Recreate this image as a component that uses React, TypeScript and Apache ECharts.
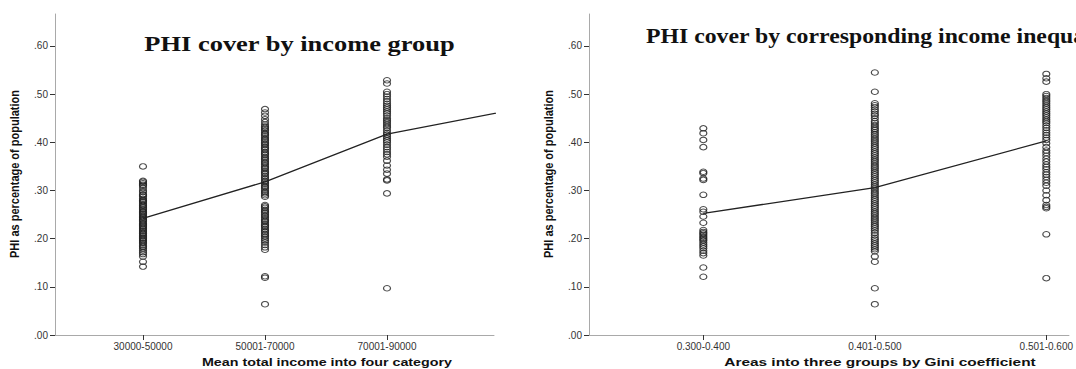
import React, { useEffect, useRef } from "react";
import * as echarts from "echarts";

// ---------- data ----------
const incomeCats = ["30000-50000", "50001-70000", "70001-90000", "90001-110000"];
const giniCats = ["0.300-0.400", "0.401-0.500", "0.501-0.600"];

const incomeMeans = [0.242, 0.318, 0.417, 0.466];
const giniMeans = [0.2525, 0.306, 0.403];

const inc1 = [0.350, 0.320, 0.318, 0.315, 0.312, 0.310, 0.305, 0.300, 0.297, 0.292, 0.290, 0.287, 0.283, 0.280, 0.278, 0.276, 0.273, 0.270, 0.268, 0.265, 0.262, 0.260, 0.257, 0.255, 0.252, 0.250, 0.247, 0.245, 0.243, 0.240, 0.238, 0.235, 0.232, 0.230, 0.227, 0.225, 0.222, 0.220, 0.217, 0.215, 0.212, 0.210, 0.207, 0.205, 0.202, 0.200, 0.197, 0.195, 0.192, 0.190, 0.186, 0.183, 0.180, 0.176, 0.172, 0.168, 0.163, 0.152, 0.142];
const inc2 = [0.469, 0.462, 0.455, 0.448, 0.442, 0.437, 0.433, 0.430, 0.427, 0.424, 0.420, 0.417, 0.414, 0.410, 0.407, 0.404, 0.400, 0.397, 0.394, 0.390, 0.387, 0.384, 0.380, 0.377, 0.374, 0.370, 0.367, 0.364, 0.360, 0.357, 0.354, 0.350, 0.347, 0.344, 0.340, 0.337, 0.334, 0.330, 0.327, 0.324, 0.320, 0.317, 0.314, 0.310, 0.307, 0.304, 0.300, 0.297, 0.294, 0.290, 0.287, 0.270, 0.267, 0.264, 0.260, 0.257, 0.254, 0.250, 0.247, 0.244, 0.240, 0.237, 0.234, 0.230, 0.227, 0.224, 0.220, 0.217, 0.214, 0.210, 0.207, 0.204, 0.200, 0.196, 0.192, 0.187, 0.182, 0.177, 0.122, 0.119, 0.064];
const inc3 = [0.529, 0.522, 0.505, 0.500, 0.495, 0.490, 0.485, 0.480, 0.476, 0.472, 0.468, 0.464, 0.460, 0.455, 0.450, 0.446, 0.442, 0.438, 0.434, 0.430, 0.425, 0.420, 0.416, 0.412, 0.408, 0.404, 0.400, 0.395, 0.390, 0.385, 0.380, 0.375, 0.370, 0.362, 0.352, 0.343, 0.335, 0.323, 0.321, 0.294, 0.097];

const gini1 = [0.429, 0.419, 0.405, 0.390, 0.339, 0.336, 0.325, 0.322, 0.291, 0.261, 0.256, 0.246, 0.233, 0.218, 0.214, 0.211, 0.208, 0.205, 0.202, 0.199, 0.196, 0.192, 0.188, 0.184, 0.180, 0.175, 0.170, 0.165, 0.140, 0.121];
const gini2 = [0.545, 0.505, 0.481, 0.477, 0.473, 0.468, 0.464, 0.459, 0.455, 0.450, 0.444, 0.440, 0.436, 0.432, 0.428, 0.425, 0.421, 0.417, 0.413, 0.409, 0.405, 0.401, 0.397, 0.393, 0.389, 0.385, 0.381, 0.377, 0.373, 0.369, 0.365, 0.361, 0.357, 0.353, 0.349, 0.345, 0.341, 0.337, 0.333, 0.329, 0.325, 0.321, 0.317, 0.313, 0.309, 0.305, 0.301, 0.297, 0.293, 0.289, 0.285, 0.281, 0.277, 0.273, 0.269, 0.265, 0.261, 0.257, 0.253, 0.249, 0.245, 0.241, 0.237, 0.233, 0.229, 0.225, 0.221, 0.217, 0.212, 0.207, 0.202, 0.198, 0.194, 0.190, 0.186, 0.182, 0.178, 0.174, 0.163, 0.152, 0.097, 0.064];
const gini3 = [0.542, 0.533, 0.526, 0.500, 0.496, 0.492, 0.488, 0.484, 0.480, 0.476, 0.472, 0.468, 0.464, 0.460, 0.456, 0.452, 0.448, 0.444, 0.440, 0.435, 0.430, 0.425, 0.420, 0.415, 0.410, 0.405, 0.398, 0.390, 0.383, 0.378, 0.372, 0.366, 0.360, 0.354, 0.349, 0.344, 0.338, 0.333, 0.328, 0.322, 0.316, 0.310, 0.300, 0.290, 0.280, 0.270, 0.266, 0.263, 0.209, 0.118];

const yTicks = [0, 0.1, 0.2, 0.3, 0.4, 0.5, 0.6];
const leftTitle = "PHI cover by income group";
const rightTitle = "PHI cover by corresponding income inequality";
const rightTitleVisible = "PHI cover by corresponding income inequ";
const leftXName = "Mean total income into four category";
const rightXName = "Areas into three groups by Gini coefficient";
const yName = "PHI as percentage of population";

// ---------- helpers ----------
function measure(text: string, font: string): number {
  const ctx = document.createElement("canvas").getContext("2d");
  if (!ctx) return text.length * 6;
  ctx.font = font;
  return ctx.measureText(text).width;
}

const toPoints = (groups: number[][]) => {
  const out: number[][] = [];
  groups.forEach((g, i) => g.forEach((v) => out.push([i + 1, v])));
  return out;
};

export default function App() {
  const ref = useRef<HTMLDivElement>(null);
  useEffect(() => {
    if (!ref.current) return;
    const chart = echarts.init(ref.current, undefined, { renderer: "svg" });

    const titleFont = 'bold 20px "Liberation Serif"';
    const nameFont = 'bold 11px "Liberation Sans"';
    const yFont = 'bold 13px "Liberation Sans"';
    const titleScale = 311 / measure(leftTitle, titleFont);
    const rTitleScale = 428 / measure(rightTitleVisible, titleFont);
    const lxScale = 250 / measure(leftXName, nameFont);
    const rxScale = 312 / measure(rightXName, nameFont);
    const yScale = 168 / measure(yName, yFont);

    const yMax = 0.6664;
    const axisGrey = "#a9a9a9";
    const tickCol = "#333";

    const yAxisCommon = (gi: number) => ({
      type: "value",
      gridIndex: gi,
      min: 0,
      max: yMax,
      splitLine: { show: false },
      axisLine: { show: true, lineStyle: { color: axisGrey, width: 1 } },
      axisTick: { show: true, length: 5, customValues: yTicks, lineStyle: { color: tickCol } },
      axisLabel: {
        customValues: yTicks,
        fontSize: 10,
        fontFamily: "Liberation Sans",
        color: "#333",
        margin: 7,
        formatter: (v: number) => v.toFixed(2).replace(/^0/, ""),
      },
    });

    const xAxisCommon = (gi: number, min: number, max: number, cats: string[], ticks: number[]) => ({
      type: "value",
      gridIndex: gi,
      min,
      max,
      splitLine: { show: false },
      axisLine: { show: true, onZero: false, lineStyle: { color: axisGrey, width: 1 } },
      axisTick: { show: true, length: 5, customValues: ticks, lineStyle: { color: tickCol } },
      axisLabel: {
        customValues: ticks,
        fontSize: 10,
        fontFamily: "Liberation Sans",
        color: "#333",
        margin: 6,
        formatter: (v: number) => cats[Math.round(v) - 1] ?? "",
      },
    });

    const scatterStyle = {
      type: "scatter",
      symbol: "circle",
      symbolSize: [7, 5.5],
      itemStyle: { color: "rgba(255,255,255,0)", borderColor: "#1e1e1e", borderWidth: 1.1 },
      silent: true,
    };
    const lineStyle = {
      type: "line",
      symbol: "none",
      lineStyle: { color: "#222", width: 1.3 },
      clip: true,
      silent: true,
      z: 3,
    };

    const textEl = (text: string, x: number, y: number, font: string, sx: number, align: string, rotation = 0) => ({
      type: "text",
      x,
      y,
      rotation,
      scaleX: sx,
      silent: true,
      style: {
        text,
        font,
        fill: "#111",
        align,
        verticalAlign: "middle",
        textAlign: align,
        textVerticalAlign: "middle",
      },
    });

    chart.setOption({
      animation: false,
      backgroundColor: "#fff",
      grid: [
        { left: 55, top: 14, width: 439, height: 321 },
        { left: 589, top: 14, width: 487, height: 321 },
      ],
      xAxis: [
        xAxisCommon(0, 0.2787, 3.877, incomeCats, [1, 2, 3]),
        xAxisCommon(1, 0.3333, 3.132, giniCats, [1, 2, 3]),
      ],
      yAxis: [yAxisCommon(0), yAxisCommon(1)],
      series: [
        { ...scatterStyle, xAxisIndex: 0, yAxisIndex: 0, data: toPoints([inc1, inc2, inc3]) },
        { ...lineStyle, xAxisIndex: 0, yAxisIndex: 0, data: incomeMeans.map((m, i) => [i + 1, m]) },
        { ...scatterStyle, xAxisIndex: 1, yAxisIndex: 1, data: toPoints([gini1, gini2, gini3]) },
        { ...lineStyle, xAxisIndex: 1, yAxisIndex: 1, data: giniMeans.map((m, i) => [i + 1, m]) },
      ],
      graphic: [
        textEl(leftTitle, 299.5, 44, titleFont, titleScale, "center"),
        textEl(rightTitle, 646, 36, titleFont, rTitleScale, "left"),
        textEl(leftXName, 327, 362, nameFont, lxScale, "center"),
        textEl(rightXName, 880, 362, nameFont, rxScale, "center"),
        textEl(yName, 15, 174, yFont, yScale, "center", Math.PI / 2),
        textEl(yName, 549, 174, yFont, yScale, "center", Math.PI / 2),
      ],
    });
    return () => chart.dispose();
  }, []);

  return (
    <div
      ref={ref}
      style={{ position: "fixed", left: 0, top: 0, width: 1076, height: 369, background: "#fff" }}
    />
  );
}
